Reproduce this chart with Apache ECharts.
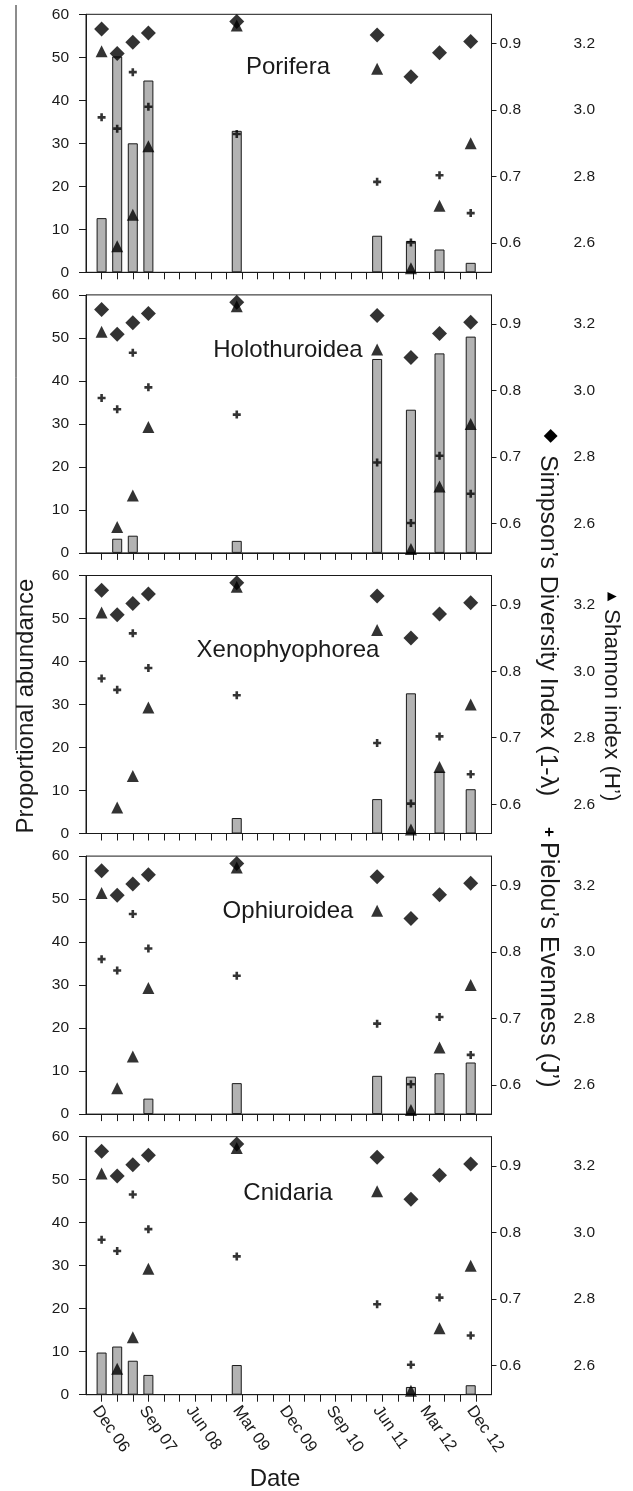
<!DOCTYPE html>
<html><head><meta charset="utf-8">
<script src="https://cdn.jsdelivr.net/npm/echarts@6/dist/echarts.min.js"></script>
<style>html,body{margin:0;padding:0;background:#fff}#c{width:633px;height:1491px}</style>
</head><body><div id="c"></div>
<script>
// ---- data ----
const sampleMonths = [0, 3, 6, 9, 26, 53, 59.5, 65, 71]; // months since Dec 2006
const tickMonths = [0, 9, 18, 27, 36, 45, 54, 63, 72];
const tickLabels = ['Dec 06','Sep 07','Jun 08','Mar 09','Dec 09','Sep 10','Jun 11','Mar 12','Dec 12'];
const taxa = ['Porifera','Holothuroidea','Xenophyophorea','Ophiuroidea','Cnidaria'];
const porifera       = [12.6, 50.2, 30.0, 44.6, 32.9, 8.5, 7.3, 5.3, 2.2];
const holothuroidea  = [0, 3.3, 4.0, 0, 2.8, 45.1, 33.3, 46.4, 50.3];
const xenophyophorea = [0, 0, 0, 0, 3.6, 8.0, 32.6, 14.4, 10.3];
const ophiuroidea    = [0, 0, 0, 3.6, 7.2, 8.9, 8.7, 9.5, 12.0];
const cnidaria       = [9.8, 11.2, 7.9, 4.6, 6.9, 0, 1.8, 0, 2.2];
const simpson = [0.922, 0.885, 0.902, 0.916, 0.933, 0.913, 0.850, 0.886, 0.903];
const shannon = [3.177, 2.590, 2.685, 2.891, 3.254, 3.124, 2.524, 2.712, 2.900];
const pielou  = [0.789, 0.772, 0.857, 0.805, 0.764, 0.692, 0.601, 0.702, 0.645];
const simpsonTicks = [0.6, 0.7, 0.8, 0.9];
const shannonTicks = [2.6, 2.8, 3.0, 3.2];

const abundance = [porifera, holothuroidea, xenophyophorea, ophiuroidea, cnidaria];
const quarterTicks = [];
for (let m = 0; m <= 72; m += 3) quarterTicks.push(m);

const FONT = '"Liberation Sans", Arial, sans-serif';
const INK = '#1a1a1a';
const tops = [14.3, 294.9, 575.5, 856.1, 1136.7];
const labelOffsets = [53, 55, 74.5, 55, 57];

const grids = [], xAxes = [], yAxes = [], series = [], graphics = [];
tops.forEach((top, i) => {
  grids.push({left: 86, width: 405.5, top: top, height: 258, show: true,
    borderColor: INK, borderWidth: 1, backgroundColor: 'transparent'});
  xAxes.push({gridIndex: i, type: 'value', min: -3, max: 75,
    axisLine: {onZero: false, lineStyle: {color: INK, width: 1}},
    axisTick: {show: true, customValues: quarterTicks, length: 7, lineStyle: {color: INK}},
    axisLabel: {show: i === 4, customValues: tickMonths, rotate: -55, margin: 9,
      fontSize: 16.5, fontFamily: FONT, color: INK,
      rich: {a: {fontSize: 16.5, fontFamily: FONT, color: INK, padding: [14, 0, 0, 0]}},
      formatter: v => { const k = tickMonths.indexOf(v); return k >= 0 ? '{a|' + tickLabels[k] + '}' : ''; }},
    splitLine: {show: false}});
  yAxes.push({gridIndex: i, type: 'value', min: 0, max: 60, interval: 10, position: 'left',
    axisLine: {show: true, onZero: false, lineStyle: {color: INK}},
    axisTick: {show: true, length: 7, lineStyle: {color: INK}},
    axisLabel: {margin: 17, fontSize: 15.5, fontFamily: FONT, color: INK},
    splitLine: {show: false}});
  yAxes.push({gridIndex: i, type: 'value', min: 0.556, max: 0.944, position: 'right',
    axisLine: {show: true, onZero: false, lineStyle: {color: INK}},
    axisTick: {show: true, customValues: simpsonTicks, length: 5, lineStyle: {color: INK}},
    axisLabel: {customValues: simpsonTicks, margin: 8, fontSize: 15.5, fontFamily: FONT, color: INK,
      formatter: v => v.toFixed(1)},
    splitLine: {show: false}});
  yAxes.push({gridIndex: i, type: 'value', min: 2.512, max: 3.288, position: 'right', offset: 74,
    axisLine: {show: false, onZero: false}, axisTick: {show: false},
    axisLabel: {customValues: shannonTicks, margin: 8, fontSize: 15.5, fontFamily: FONT, color: INK,
      formatter: v => v.toFixed(1)},
    splitLine: {show: false}});

  const barData = [];
  abundance[i].forEach((v, k) => { if (v > 0) barData.push([sampleMonths[k], v]); });
  series.push({type: 'bar', xAxisIndex: i, yAxisIndex: 3 * i, barWidth: 10, data: barData,
    itemStyle: {color: '#b3b3b3', borderColor: INK, borderWidth: 1}, z: 2});
  series.push({type: 'scatter', xAxisIndex: i, yAxisIndex: 3 * i + 2, symbol: 'triangle', symbolSize: 12,
    data: shannon.map((v, k) => [sampleMonths[k], v]), itemStyle: {color: '#000'}, z: 3});
  series.push({type: 'scatter', xAxisIndex: i, yAxisIndex: 3 * i + 1,
    symbol: 'path://M2.7,0H5.3V2.7H8V5.3H5.3V8H2.7V5.3H0V2.7H2.7Z', symbolSize: 8,
    data: pielou.map((v, k) => [sampleMonths[k], v]), itemStyle: {color: '#000'}, z: 4});
  series.push({type: 'scatter', xAxisIndex: i, yAxisIndex: 3 * i + 1, symbol: 'diamond', symbolSize: 15,
    data: simpson.map((v, k) => [sampleMonths[k], v]), itemStyle: {color: '#000'}, z: 5});

  graphics.push({type: 'text', x: 288, y: top + labelOffsets[i], z: 10,
    style: {text: taxa[i], fontSize: 24, fontFamily: FONT, fill: INK, align: 'center', verticalAlign: 'middle'}});
});

function vtext(txt, x, y, size, extra) {
  return {type: 'text', x: x, y: y, rotation: -Math.PI / 2,
    style: Object.assign({text: txt, fontSize: size, fontFamily: FONT, fill: INK,
      align: 'left', verticalAlign: 'middle'}, extra || {})};
}

graphics.push({type: 'line', shape: {x1: 16, y1: 5, x2: 16, y2: 750}, style: {stroke: INK, lineWidth: 1}});
graphics.push({type: 'text', x: 26, y: 706, rotation: Math.PI / 2,
  style: {text: 'Proportional abundance', fontSize: 24, fontFamily: FONT, fill: INK, align: 'center', verticalAlign: 'middle'}});
graphics.push({type: 'text', x: 275, y: 1479,
  style: {text: 'Date', fontSize: 24, fontFamily: FONT, fill: INK, align: 'center', verticalAlign: 'middle'}});
graphics.push(vtext('◆', 551, 429, 18, {fontFamily: '"DejaVu Sans", sans-serif', fill: '#000'}));
graphics.push(vtext('Simpson’s Diversity Index (1-λ)', 548, 455, 24.8));
graphics.push(vtext('+', 549, 827, 17, {fontWeight: 'bold', fill: '#000'}));
graphics.push(vtext('Pielou’s Evenness (J’)', 548, 842, 25));
graphics.push(vtext('▲', 612, 592, 12, {fontFamily: '"DejaVu Sans", sans-serif', fill: '#000'}));
graphics.push(vtext('Shannon index (H’)', 611, 609, 22.5));

const chart = echarts.init(document.getElementById('c'), null, {renderer: 'canvas'});
chart.setOption({animation: false, backgroundColor: '#fff', grid: grids, xAxis: xAxes, yAxis: yAxes,
  series: series, graphic: graphics});
</script></body></html>
